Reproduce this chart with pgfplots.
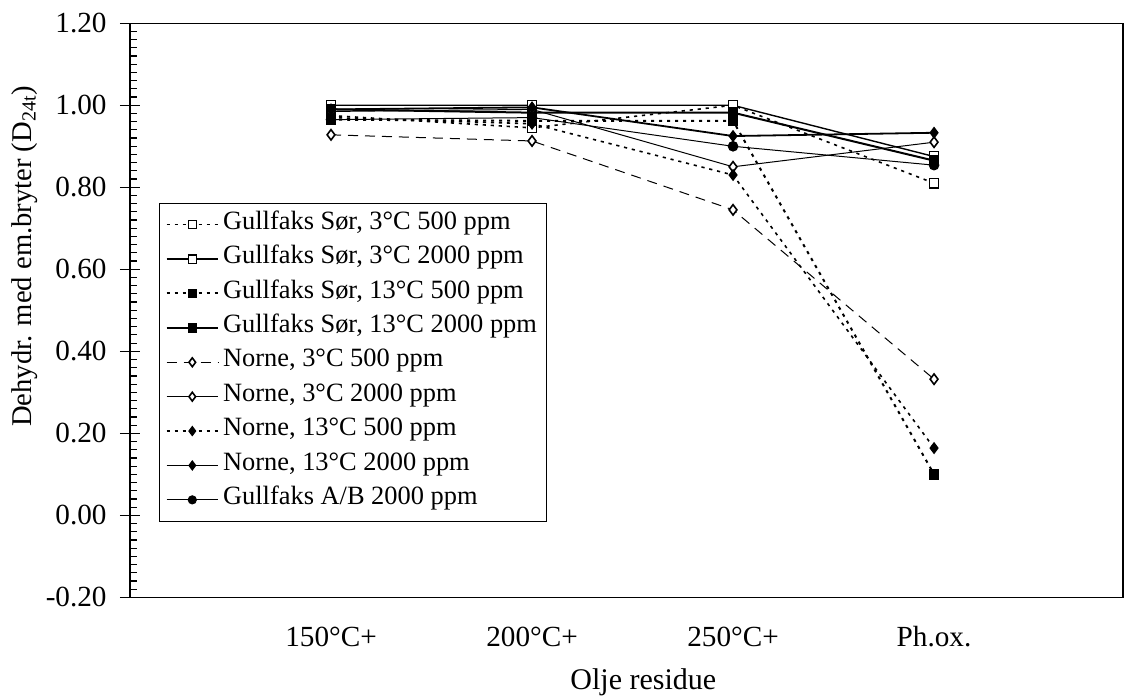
\documentclass[border=0pt]{standalone}
\usepackage{fontspec}
\setmainfont{Liberation Serif}
\usepackage{pgfplots}
\pgfplotsset{compat=1.18}
\begin{document}
\begin{tikzpicture}
\begin{axis}[
  scale only axis,
  width=496.5pt, height=287pt,
  xmin=0, xmax=4.94,
  ymin=-0.2, ymax=1.2,
  xtick={1,2,3,4},
  xticklabels={150°C+,200°C+,250°C+,Ph.ox.},
  ytick={-0.2,0,0.2,0.4,0.6,0.8,1.0,1.2},
  yticklabels={-0.20,0.00,0.20,0.40,0.60,0.80,1.00,1.20},
  minor y tick num=9,
  ytick pos=left, xtick pos=bottom,
  xtick style={draw=none},
  tick align=inside,
  major tick length=10pt,
  minor tick length=3.35pt,
  every major tick/.append style={xshift=-5pt},
  every tick/.append style={line width=0.6pt, black},
  axis line style={line width=0.6pt},
  xticklabel style={font=\fontsize{14.6}{16}\selectfont, anchor=base, yshift=-24.7pt},
  yticklabel style={font=\fontsize{14.6}{16}\selectfont, anchor=east, inner sep=0pt, xshift=-11.5pt},
  xlabel={Olje residue},
  ylabel={Dehydr. med em.bryter (D\textsubscript{24t})},
  xlabel style={font=\fontsize{15}{17}\selectfont, at={(rel axis cs:0.517,0)}, anchor=base, yshift=-46.3pt},
  ylabel style={font=\fontsize{14.3}{17}\selectfont, at={(rel axis cs:-0.1062,0.594)}, anchor=center},
  legend style={at={(rel axis cs:0.0292,0.687)}, anchor=north west,
    font=\fontsize{13.2}{15}\selectfont, draw=black, line width=0.5pt,
    inner xsep=3pt, inner ysep=2pt,
    nodes={inner sep=2pt, text height=8.9pt, text depth=4.3pt},
    row sep=0pt},
  legend cell align=left,
  legend image code/.code={%
    \draw[mark repeat=2,mark phase=2, every mark/.append style={scale=0.85}]
      plot coordinates {(0pt,0pt) (12.9pt,0pt) (25.8pt,0pt)};},
]
% Gullfaks Sor 3C 500
\addplot[black, line width=0.8pt, dash pattern=on 1.6pt off 2.4pt, mark=square*,
  mark options={fill=white, solid, line width=0.6pt}, mark size=2.4pt]
  coordinates {(1,0.975) (2,0.945) (3,1.00) (4,0.81)};
\addlegendentry{Gullfaks Sør, 3°C 500 ppm}
% Gullfaks Sor 3C 2000
\addplot[black, line width=0.7pt, mark=square*,
  mark options={fill=white, solid, line width=0.6pt}, mark size=2.4pt]
  coordinates {(1,1.00) (2,1.00) (3,1.00) (4,0.875)};
\addlegendentry{Gullfaks Sør, 3°C 2000 ppm}
% Gullfaks Sor 13C 500
\addplot[black, line width=1pt, dash pattern=on 1.6pt off 2.4pt, mark=square*,
  mark options={fill=black, solid, line width=0.6pt}, mark size=2.4pt]
  coordinates {(1,0.965) (2,0.962) (3,0.962) (4,0.10)};
\addlegendentry{Gullfaks Sør, 13°C 500 ppm}
% Gullfaks Sor 13C 2000
\addplot[black, line width=1pt, mark=square*,
  mark options={fill=black, solid, line width=0.6pt}, mark size=2.4pt]
  coordinates {(1,0.99) (2,0.982) (3,0.982) (4,0.865)};
\addlegendentry{Gullfaks Sør, 13°C 2000 ppm}
% Norne 3C 500
\addplot[black, line width=0.5pt, dash pattern=on 5pt off 3.5pt, mark=diamond*,
  mark options={fill=white, solid, line width=0.8pt}, mark size=2.6pt]
  coordinates {(1,0.928) (2,0.913) (3,0.745) (4,0.332)};
\addlegendentry{Norne, 3°C 500 ppm}
% Norne 3C 2000
\addplot[black, line width=0.5pt, mark=diamond*,
  mark options={fill=white, solid, line width=0.8pt}, mark size=2.6pt]
  coordinates {(1,0.985) (2,0.99) (3,0.85) (4,0.91)};
\addlegendentry{Norne, 3°C 2000 ppm}
% Norne 13C 500
\addplot[black, line width=0.8pt, dash pattern=on 1.6pt off 2.4pt, mark=diamond*,
  mark options={fill=black, solid, line width=0.6pt}, mark size=2.6pt]
  coordinates {(1,0.97) (2,0.955) (3,0.83) (4,0.164)};
\addlegendentry{Norne, 13°C 500 ppm}
% Norne 13C 2000
\addplot[black, line width=0.9pt, mark=diamond*,
  mark options={fill=black, solid, line width=0.6pt}, mark size=2.6pt]
  coordinates {(1,0.99) (2,0.995) (3,0.925) (4,0.933)};
\addlegendentry{Norne, 13°C 2000 ppm}
% Gullfaks A/B 2000
\addplot[black, line width=0.5pt, mark=*,
  mark options={fill=black, solid}, mark size=2.4pt]
  coordinates {(1,0.965) (2,0.97) (3,0.90) (4,0.854)};
\addlegendentry{Gullfaks A/B 2000 ppm}
\end{axis}
\pgfresetboundingbox
\path[use as bounding box] (-65pt,-49.35pt) rectangle (497pt,298.65pt);
\end{tikzpicture}
\end{document}
